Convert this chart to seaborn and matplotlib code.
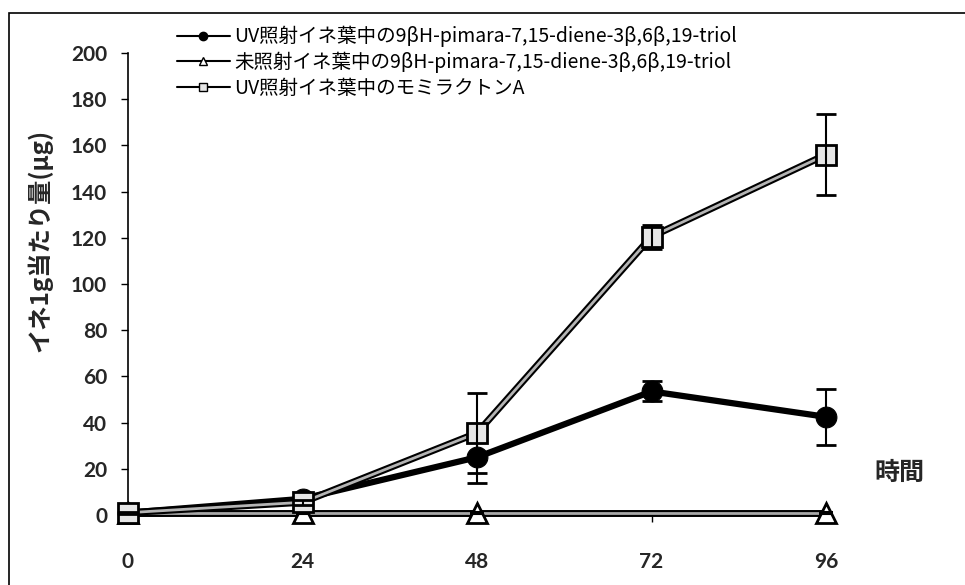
import numpy as np
import pandas as pd
import matplotlib
matplotlib.use("Agg")
import matplotlib.pyplot as plt
from matplotlib.lines import Line2D
from matplotlib.patches import Rectangle
import seaborn as sns

# ---- data ----
hours = [0, 24, 48, 72, 96]
uv_triol = [1.0, 7.0, 25.0, 53.5, 42.5]
uv_triol_err = [0.5, 1.0, 11.0, 4.3, 12.0]
ctrl_hours = [0, 24, 48, 96]
ctrl_triol = [0.8, 0.8, 0.8, 0.8]
ctrl_triol_err = [0.2, 0.2, 0.3, 0.3]
uv_momi = [1.0, 5.5, 35.5, 120.5, 156.0]
uv_momi_err = [0.5, 1.0, 17.5, 5.2, 17.5]
labels = ["UV照射イネ葉中の9βH-pimara-7,15-diene-3β,6β,19-triol",
          "未照射イネ葉中の9βH-pimara-7,15-diene-3β,6β,19-triol",
          "UV照射イネ葉中のモミラクトンA"]
yticks = [0, 20, 40, 60, 80, 100, 120, 140, 160, 180, 200]
ylabel = "イネ1g当たり量(μg)"
xlabel = "時間"

sns.set_style("white")
plt.rcParams['font.family'] = ['Noto Sans CJK JP', 'DejaVu Sans']

W, H = 965, 585
fig = plt.figure(figsize=(W / 100, H / 100), dpi=100)
ax = fig.add_axes([128 / W, 1 - 515 / H, (826 - 128) / W, (515 - 53) / H])

df = pd.DataFrame({"h": hours, "a": uv_triol, "c": uv_momi})
dfc = pd.DataFrame({"h": ctrl_hours, "b": ctrl_triol})

# circle series (thick black)
sns.lineplot(data=df, x="h", y="a", ax=ax, color="black", lw=4.5, marker="o",
             markersize=15, markeredgecolor="black", markerfacecolor="black",
             zorder=3, clip_on=False)
ax.errorbar(hours, uv_triol, yerr=uv_triol_err, fmt="none", ecolor="black",
            elinewidth=1.5, capsize=7, capthick=2, zorder=3, clip_on=False)

# triangle series (gray double line)
sns.lineplot(data=dfc, x="h", y="b", ax=ax, color="black", lw=5, zorder=4, clip_on=False)
sns.lineplot(data=dfc, x="h", y="b", ax=ax, color="#a8a8a8", lw=2, marker="^",
             markersize=15, markeredgecolor="black", markerfacecolor="white",
             markeredgewidth=2, zorder=4, clip_on=False)
ax.errorbar(ctrl_hours, ctrl_triol, yerr=ctrl_triol_err, fmt="none", ecolor="black",
            elinewidth=1.2, capsize=5, capthick=1.5, zorder=4, clip_on=False)

# square series (gray double line)
sns.lineplot(data=df, x="h", y="c", ax=ax, color="black", lw=5, zorder=5, clip_on=False)
sns.lineplot(data=df, x="h", y="c", ax=ax, color="#b4b4b4", lw=2, marker="s",
             markersize=14, markeredgecolor="black", markerfacecolor="#e6e6e6",
             markeredgewidth=2, zorder=5, clip_on=False)
ax.errorbar(hours, uv_momi, yerr=uv_momi_err, fmt="none", ecolor="black",
            elinewidth=1.5, capsize=7, capthick=2, zorder=5, clip_on=False)

ax.set_xlim(0, 96)
ax.set_ylim(0, 200)
ax.set_xticks(hours)
ax.set_yticks(yticks)
ax.set_xlabel("")
ax.set_ylabel("")
for lab in ax.get_xticklabels() + ax.get_yticklabels():
    lab.set_fontfamily(['Lato', 'DejaVu Sans'])
    lab.set_fontweight('bold')
    lab.set_fontsize(15)
ax.tick_params(axis='y', direction='out', length=5, width=1, pad=10, color='black')
ax.tick_params(axis='x', direction='out', length=5, width=1, pad=22, color='black')
ax.tick_params(left=True, bottom=True)
for s in ["top", "right"]:
    ax.spines[s].set_visible(False)
ax.spines["left"].set_color("black")
ax.spines["left"].set_linewidth(1.2)
ax.spines["bottom"].set_color("black")
ax.spines["bottom"].set_linewidth(1.2)

# legend
handles = [
    Line2D([], [], color="black", lw=1.5, marker="o", markersize=6,
           markerfacecolor="black", markeredgecolor="black"),
    Line2D([], [], color="black", lw=1.5, marker="^", markersize=6,
           markerfacecolor="white", markeredgecolor="black"),
    Line2D([], [], color="black", lw=1.5, marker="s", markersize=6,
           markerfacecolor="#e6e6e6", markeredgecolor="black"),
]
leg = ax.legend(handles, labels, loc="upper left",
                bbox_to_anchor=(177 / W, 1 - 26 / H), bbox_transform=fig.transFigure,
                frameon=False, fontsize=14, handlelength=2.7, handletextpad=0.26,
                labelspacing=0.23, borderpad=0, borderaxespad=0)
for t in leg.get_texts():
    t.set_color("black")

fig.text(40 / W, 1 - 240 / H, ylabel, rotation=90, ha="center", va="center",
         fontsize=17.5, fontweight="bold")
fig.text(899 / W, 1 - 473 / H, xlabel, ha="center", va="center",
         fontsize=18, fontweight="bold")

# outer frame (left and top edges visible)
fig.patches.append(Rectangle((9 / W, -0.2), 1.2, 1.2 - 13 / H,
                             transform=fig.transFigure, fill=False,
                             edgecolor="black", lw=1.2))

fig.savefig("out.png", dpi=100)
